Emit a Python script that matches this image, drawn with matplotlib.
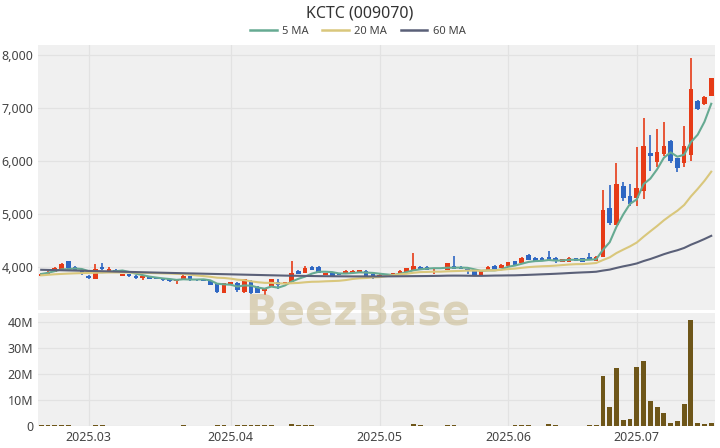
import numpy as np
import pandas as pd
import matplotlib
matplotlib.use("Agg")
import matplotlib.pyplot as plt
from matplotlib.lines import Line2D
from matplotlib.ticker import FuncFormatter

plt.rcParams['font.family'] = ['Noto Sans', 'DejaVu Sans']

# trading days (KRX holidays removed)
holidays = ["2025-05-01", "2025-05-05", "2025-05-06", "2025-06-03", "2025-06-06"]
dates = pd.bdate_range("2025-02-20", "2025-07-16")
dates = dates[~dates.isin(pd.to_datetime(holidays))]

# OHLC
open_ = [3830, 3855, 3905, 3940, 4110, 3990, 3925, 3830, 3770, 3990,
         3910, 3940, 3830, 3855, 3830, 3780, 3800, 3795, 3770, 3760,
         3720, 3750, 3820, 3770, 3755, 3730, 3665, 3510, 3680, 3685,
         3520, 3715, 3620, 3530, 3620, 3715, 3680, 3715, 3925, 3875,
         4000, 4000, 3845, 3875, 3875, 3875, 3875, 3885, 3925, 3860,
         3830, 3840, 3845, 3875, 3905, 3940, 4000, 4000, 3950, 3955,
         3940, 4020, 4000, 3950, 3920, 3830, 3940, 4020, 3980, 4020,
         4110, 4065, 4210, 4170, 4170, 4190, 4170, 4085, 4095, 4160,
         4160, 4190, 4110, 4190, 5110, 4790, 5530, 5340, 5290, 5420,
         6140, 5970, 6130, 6380, 6050, 5950, 6110, 7120, 7070, 7230]
high = [3870, 3915, 3990, 4060, 4115, 4010, 3940, 3840, 4050, 4070,
        3985, 3950, 3865, 3860, 3835, 3835, 3805, 3800, 3775, 3765,
        3755, 3850, 3825, 3775, 3760, 3735, 3670, 3695, 3710, 3715,
        3770, 3740, 3630, 3600, 3770, 3760, 3710, 4110, 3930, 4015,
        4015, 4010, 3880, 3880, 3880, 3930, 3930, 3945, 3930, 3865,
        3855, 3865, 3880, 3930, 3975, 4250, 4010, 4005, 3980, 3980,
        4070, 4200, 4005, 3955, 3925, 3925, 4005, 4025, 4040, 4090,
        4115, 4180, 4230, 4180, 4180, 4295, 4175, 4150, 4175, 4165,
        4165, 4250, 4200, 5440, 5540, 5950, 5600, 5560, 6250, 6800,
        6490, 6600, 6740, 6390, 6060, 6650, 7940, 7140, 7230, 7570]
low = [3820, 3850, 3900, 3930, 3960, 3915, 3845, 3775, 3760, 3940,
       3900, 3905, 3825, 3810, 3775, 3740, 3765, 3760, 3735, 3715,
       3680, 3745, 3735, 3735, 3730, 3650, 3510, 3505, 3675, 3525,
       3500, 3490, 3500, 3465, 3615, 3570, 3670, 3710, 3855, 3870,
       3930, 3870, 3840, 3820, 3840, 3870, 3870, 3880, 3805, 3760,
       3825, 3835, 3840, 3870, 3900, 3930, 3950, 3930, 3855, 3950,
       3935, 3950, 3950, 3855, 3825, 3825, 3930, 3950, 3975, 4015,
       4025, 4060, 4120, 4100, 4100, 4100, 4065, 4080, 4090, 4100,
       4090, 4125, 4105, 4180, 4790, 4780, 5230, 5140, 5150, 5280,
       5800, 5890, 6080, 5960, 5780, 5890, 6000, 6950, 7050, 7220]
close = [3860, 3905, 3980, 4045, 3970, 3925, 3855, 3780, 3960, 3950,
         3960, 3910, 3855, 3820, 3780, 3830, 3770, 3765, 3740, 3720,
         3750, 3830, 3740, 3740, 3735, 3655, 3515, 3685, 3700, 3560,
         3760, 3495, 3510, 3590, 3760, 3655, 3700, 3875, 3860, 3970,
         3935, 3875, 3875, 3825, 3845, 3925, 3925, 3935, 3810, 3810,
         3850, 3860, 3875, 3925, 3970, 4020, 3955, 3940, 3965, 3970,
         4065, 3955, 3955, 3940, 3830, 3920, 4000, 3955, 4030, 4085,
         4030, 4170, 4125, 4110, 4110, 4110, 4110, 4145, 4170, 4110,
         4095, 4130, 4190, 5060, 4830, 5560, 5290, 5190, 5480, 6270,
         6080, 6170, 6280, 5990, 5860, 6270, 7360, 6980, 7210, 7560]
# volume in millions of shares
volume = [0.25, 0.22, 0.30, 0.35, 0.28, 0.20, 0.18, 0.20, 0.40, 0.25,
          0.18, 0.15, 0.15, 0.14, 0.16, 0.20, 0.13, 0.12, 0.12, 0.14,
          0.18, 0.22, 0.15, 0.12, 0.11, 0.18, 0.35, 0.30, 0.15, 0.25,
          0.35, 0.30, 0.22, 0.25, 0.28, 0.20, 0.15, 0.90, 0.30, 0.25,
          0.22, 0.18, 0.12, 0.13, 0.12, 0.15, 0.14, 0.15, 0.20, 0.18,
          0.12, 0.11, 0.12, 0.15, 0.20, 0.85, 0.25, 0.18, 0.15, 0.12,
          0.22, 0.45, 0.18, 0.15, 0.20, 0.18, 0.16, 0.14, 0.18, 0.20,
          0.22, 0.30, 0.25, 0.18, 0.16, 0.65, 0.25, 0.18, 0.20, 0.15,
          0.15, 0.30, 0.30, 19.2, 7.3, 22.4, 2.3, 2.9, 22.7, 24.9,
          9.6, 7.2, 5.1, 1.0, 1.9, 8.6, 41.0, 1.3, 0.6, 1.3]

# moving-average values before a full window exists
ma20_head = [3835, 3845, 3855, 3862, 3868, 3873, 3877, 3880, 3884, 3887,
             3889, 3890, 3890, 3889, 3887, 3884, 3880, 3876, 3872]
ma60_head = [3940, 3937, 3934, 3931, 3928, 3925, 3922, 3919, 3916, 3913,
             3910, 3906, 3903, 3900, 3897, 3893, 3890, 3887, 3884, 3881,
             3878, 3875, 3872, 3869, 3866, 3863, 3860, 3857, 3854, 3851,
             3848, 3845, 3842, 3839, 3836, 3833, 3830, 3828, 3826, 3824,
             3822, 3820, 3819, 3818, 3817, 3816, 3815, 3815, 3815, 3815,
             3816, 3816, 3817, 3818, 3819, 3820, 3821, 3822, 3824]

up_color = "#e63b17"
down_color = "#2e67c3"
vol_color = "#6e5619"
ma_colors = {"5 MA": "#66aa92", "20 MA": "#d9c77c", "60 MA": "#5a6078"}

c = pd.Series(close, dtype=float)
ma5 = c.rolling(5, min_periods=1).mean()
ma20 = c.rolling(20).mean()
ma20.iloc[:19] = ma20_head
ma60 = c.rolling(60).mean()
ma60.iloc[:59] = ma60_head

x = np.arange(len(close))
o = np.array(open_, dtype=float)
cl = np.array(close, dtype=float)
colors = [up_color if cc >= oo else down_color for oo, cc in zip(o, cl)]

fig = plt.figure(figsize=(7.2, 4.48), dpi=100)
ax = fig.add_axes([0.053, 0.308, 0.940, 0.592])
axv = fig.add_axes([0.053, 0.049, 0.940, 0.252])

for a in (ax, axv):
    a.set_facecolor("#f0f0f0")
    for s in a.spines.values():
        s.set_visible(False)
    a.grid(True, color="#e2e2e2", linewidth=0.9)
    a.set_axisbelow(True)
    a.tick_params(length=0, labelsize=9, colors="#444444")
    a.set_xlim(-0.45, len(close) - 0.45)

# candles
ax.vlines(x, low, high, colors=colors, linewidth=1.2, zorder=2)
body = np.maximum(np.abs(cl - o), 8)
ax.bar(x, body, bottom=np.minimum(o, cl), width=0.68, color=colors, zorder=3)

ax.plot(x, ma5, color=ma_colors["5 MA"], lw=1.5, zorder=4)
ax.plot(x, ma20, color=ma_colors["20 MA"], lw=1.5, zorder=4)
ax.plot(x, ma60, color=ma_colors["60 MA"], lw=1.5, zorder=4)

ax.set_ylim(3180, 8190)
ax.set_yticks([4000, 5000, 6000, 7000, 8000])
ax.yaxis.set_major_formatter(FuncFormatter(lambda v, p: f"{int(v):,}"))

# month ticks at first trading day
month_pos = [i for i in range(1, len(dates)) if dates[i].month != dates[i - 1].month]
month_lab = [dates[i].strftime("%Y.%m") for i in month_pos]
ax.set_xticks(month_pos)
ax.set_xticklabels([])
axv.set_xticks(month_pos)
axv.set_xticklabels(month_lab)

axv.bar(x, np.array(volume) * 1e6, width=0.72, color=vol_color, zorder=3)
axv.set_ylim(0, 43.5e6)
axv.set_yticks([0, 10e6, 20e6, 30e6, 40e6])
axv.yaxis.set_major_formatter(FuncFormatter(lambda v, p: "0" if v == 0 else f"{int(v / 1e6)}M"))

fig.text(0.5, 0.969, "KCTC (009070)", ha="center", va="center", fontsize=11.5, color="#333333")
handles = [Line2D([0], [0], color=col, lw=1.8) for col in ma_colors.values()]
fig.legend(handles, list(ma_colors.keys()), loc="center", bbox_to_anchor=(0.497, 0.929),
           ncol=3, frameon=False, fontsize=8, handlelength=2.4, columnspacing=1.2,
           handletextpad=0.5, labelcolor="#444444")

fig.text(0.497, 0.302, "BeezBase", ha="center", va="center", fontsize=30,
         fontweight="bold", family="DejaVu Sans", color="#c8b88a", alpha=0.55, zorder=10)

fig.savefig("out.png", dpi=100)
